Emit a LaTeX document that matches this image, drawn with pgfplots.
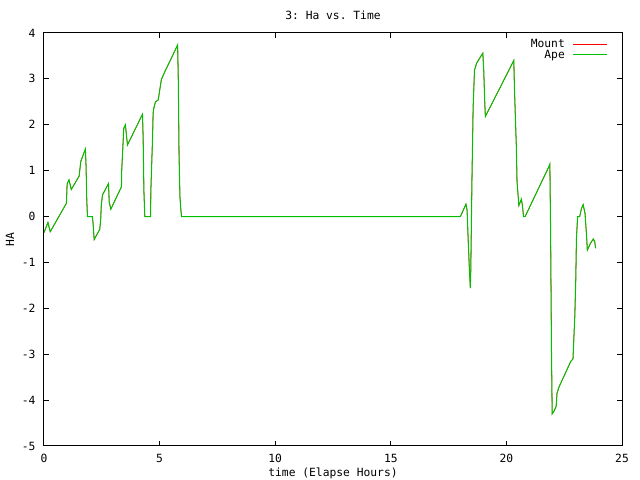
\documentclass[border=0pt]{standalone}
\usepackage{pgfplots}
\pgfplotsset{compat=1.18}
\usepackage{fontspec}
\setmonofont{DejaVu Sans Mono}

\definecolor{gpred}{RGB}{255,0,0}
\definecolor{gpgreen}{RGB}{0,192,0}

\newcommand{\gpfont}{\ttfamily\fontsize{11.3bp}{13bp}\selectfont}

\pgfplotsset{
    gpline/.style={legend image code/.code={\path (0bp,0bp); \draw[##1] (6bp,0bp) -- (40bp,0bp);}},
}

\pgfplotstableread{
t ha
0 -0.35
0.17 -0.13
0.27 -0.33
0.97 0.29
1.0 0.71
1.08 0.80
1.18 0.59
1.52 0.88
1.59 1.20
1.79 1.47
1.82 1.09
1.85 0.36
1.88 0.0
2.09 0.0
2.12 -0.13
2.17 -0.50
2.41 -0.28
2.45 -0.08
2.48 0.26
2.53 0.47
2.79 0.72
2.82 0.32
2.89 0.16
3.35 0.65
3.36 0.99
3.45 1.92
3.52 2.00
3.61 1.56
4.26 2.23
4.29 1.68
4.32 0.58
4.36 0.0
4.61 0.0
4.62 0.54
4.69 1.63
4.72 2.25
4.75 2.36
4.82 2.50
4.94 2.54
4.98 2.67
5.04 2.87
5.08 2.99
5.23 3.16
5.44 3.38
5.78 3.74
5.81 2.94
5.84 1.38
5.88 0.43
5.92 0.14
5.95 0.0
18.01 0.0
18.25 0.27
18.30 0.14
18.34 -0.42
18.40 -1.16
18.44 -1.56
18.46 -1.16
18.48 -0.38
18.51 0.80
18.56 2.36
18.62 3.19
18.71 3.34
18.88 3.48
18.98 3.56
19.02 3.19
19.06 2.54
19.09 2.18
20.32 3.40
20.35 2.76
20.43 1.52
20.46 0.76
20.54 0.24
20.65 0.38
20.70 0.21
20.74 0.0
20.81 0.0
21.84 1.09
21.88 1.14
21.91 -0.22
21.95 -2.94
21.98 -4.30
22.05 -4.25
22.15 -4.14
22.19 -3.85
22.27 -3.72
22.78 -3.16
22.88 -3.10
22.91 -2.75
22.96 -2.15
23.00 -1.38
23.03 -0.47
23.08 0.0
23.17 0.0
23.25 0.18
23.32 0.26
23.40 0.07
23.47 -0.44
23.50 -0.73
23.64 -0.58
23.76 -0.49
23.82 -0.55
23.86 -0.69
}\hadata

\begin{document}
\begin{tikzpicture}
\begin{axis}[
    scale only axis,
    width=578bp, height=413bp,
    xmin=0, xmax=25, ymin=-5, ymax=4,
    xtick={0,5,...,25},
    ytick={-5,-4,...,4},
    /pgf/number format/assume math mode=true,
    tick label style={font=\gpfont},
    label style={font=\gpfont},
    title style={font=\gpfont, yshift=4bp},
    title={3: Ha vs. Time},
    xlabel={time (Elapse Hours)},
    ylabel={HA},
    xlabel style={yshift=2bp},
    ylabel style={yshift=1bp},
    axis line style={line width=1bp},
    major tick length=5bp,
    tick style={line width=1bp, black},
    xticklabel style={yshift=-5bp},
    yticklabel style={xshift=-5bp},
    legend style={draw=none, fill=none, at={(rel axis cs:0.981,0.995)}, anchor=north east,
        font=\gpfont, row sep=-3bp},
    legend cell align=right,
    legend plot pos=right,
    gpline,
]
\addplot[gpred, line width=0.6bp] table[x=t, y=ha] {\hadata};
\addlegendentry{Mount}
\addplot[gpgreen, line width=1bp] table[x=t, y=ha] {\hadata};
\addlegendentry{Ape}
\end{axis}
\pgfresetboundingbox
\useasboundingbox ([shift={(-44bp,-34bp)}]current axis.south west) rectangle ([shift={(18bp,33bp)}]current axis.north east);
\end{tikzpicture}
\end{document}
